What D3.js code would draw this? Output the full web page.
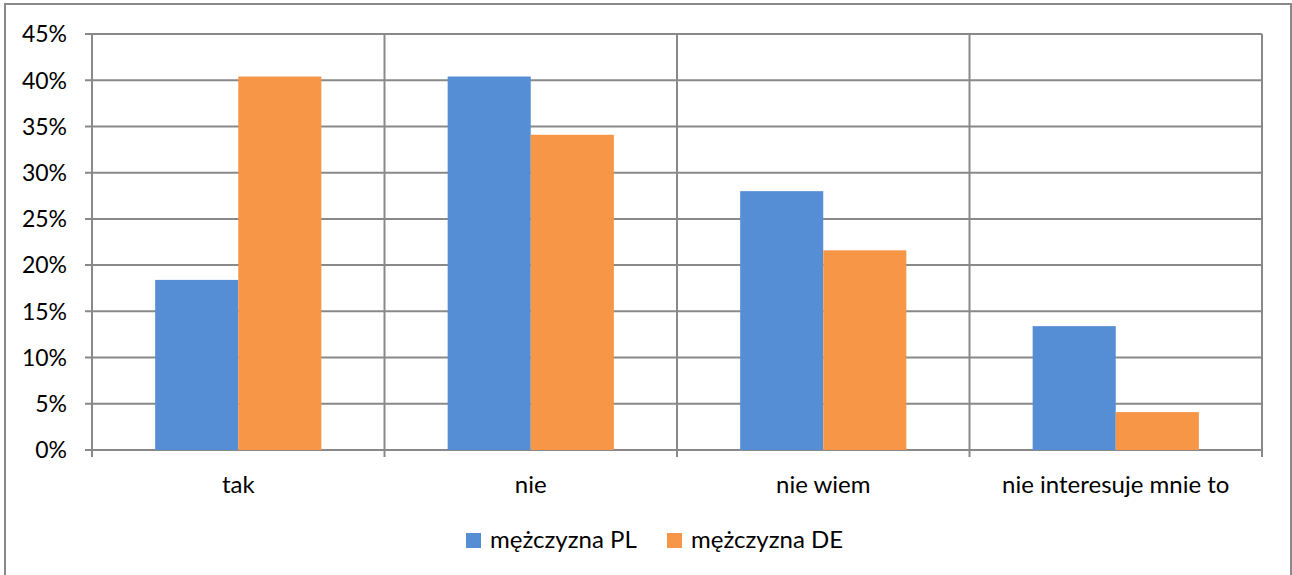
<!DOCTYPE html>
<html>
<head>
<meta charset="utf-8">
<script src="https://cdn.jsdelivr.net/npm/d3@7"></script>
<style>
  html, body { margin: 0; padding: 0; background: #fff; }
  svg text { font-family: Lato, "Open Sans", sans-serif; fill: #000; }
</style>
</head>
<body>
<div id="chart"></div>
<script>
// Chart data
const categories = ["tak", "nie", "nie wiem", "nie interesuje mnie to"];
const seriesNames = ["mężczyzna PL", "mężczyzna DE"];
const valuesPL = [0.184, 0.404, 0.280, 0.134];
const valuesDE = [0.404, 0.341, 0.216, 0.041];
const yTicks = [0, 0.05, 0.10, 0.15, 0.20, 0.25, 0.30, 0.35, 0.40, 0.45];

const seriesColors = ["#558ed5", "#f79646"];
const gridColor = "#898989";
const fontSize = "24px";

const width = 1292, height = 575;
const plot = { left: 92, right: 1262, top: 34, bottom: 450 };

const svg = d3.select("#chart").append("svg")
    .attr("width", width)
    .attr("height", height);

// outer chart border
svg.append("rect")
    .attr("x", 5).attr("y", 4)
    .attr("width", 1286).attr("height", 600)
    .attr("fill", "#fff")
    .attr("stroke", gridColor)
    .attr("stroke-width", 2);

const y = d3.scaleLinear().domain([0, 0.45]).range([plot.bottom, plot.top]);
const x = d3.scaleBand().domain(categories).range([plot.left, plot.right]);
const xSub = d3.scaleBand().domain(seriesNames)
    .range([0, x.bandwidth()])
    .paddingInner(0)
    .paddingOuter(0.76);

// horizontal gridlines
svg.append("g").selectAll("line")
    .data(yTicks)
    .enter().append("line")
    .attr("x1", plot.left - 7).attr("x2", plot.right)
    .attr("y1", d => y(d)).attr("y2", d => y(d))
    .attr("stroke", gridColor).attr("stroke-width", 2);

// vertical gridlines at category boundaries
const boundaries = categories.map(c => x(c)).concat([plot.right]);
svg.append("g").selectAll("line")
    .data(boundaries)
    .enter().append("line")
    .attr("x1", d => d).attr("x2", d => d)
    .attr("y1", plot.top).attr("y2", plot.bottom + 7)
    .attr("stroke", gridColor).attr("stroke-width", 2);

// bars
const rows = categories.map((c, i) => ({ cat: c, vals: [valuesPL[i], valuesDE[i]] }));
const groups = svg.append("g").selectAll("g")
    .data(rows)
    .enter().append("g")
    .attr("transform", d => `translate(${x(d.cat)},0)`);

groups.selectAll("rect")
    .data(d => d.vals.map((v, k) => ({ name: seriesNames[k], v: v, k: k })))
    .enter().append("rect")
    .attr("x", d => xSub(d.name))
    .attr("y", d => y(d.v))
    .attr("width", xSub.bandwidth())
    .attr("height", d => y(0) - y(d.v))
    .attr("fill", d => seriesColors[d.k]);

// y axis labels
svg.append("g").selectAll("text")
    .data(yTicks)
    .enter().append("text")
    .attr("x", 67)
    .attr("y", d => y(d))
    .attr("dy", "0.36em")
    .attr("text-anchor", "end")
    .style("font-size", "23px")
    .text(d => d3.format(".0%")(d));

// x axis labels
svg.append("g").selectAll("text")
    .data(categories)
    .enter().append("text")
    .attr("x", d => x(d) + x.bandwidth() / 2)
    .attr("y", 493)
    .attr("text-anchor", "middle")
    .style("font-size", fontSize)
    .text(d => d);

// legend
const legendX = [466, 667];
const legend = svg.append("g").selectAll("g")
    .data(seriesNames)
    .enter().append("g")
    .attr("transform", (d, i) => `translate(${legendX[i]},533)`);
legend.append("rect")
    .attr("width", 15).attr("height", 15)
    .attr("fill", (d, i) => seriesColors[i]);
legend.append("text")
    .attr("x", 24).attr("y", 15)
    .style("font-size", fontSize)
    .text(d => d);
</script>
</body>
</html>
